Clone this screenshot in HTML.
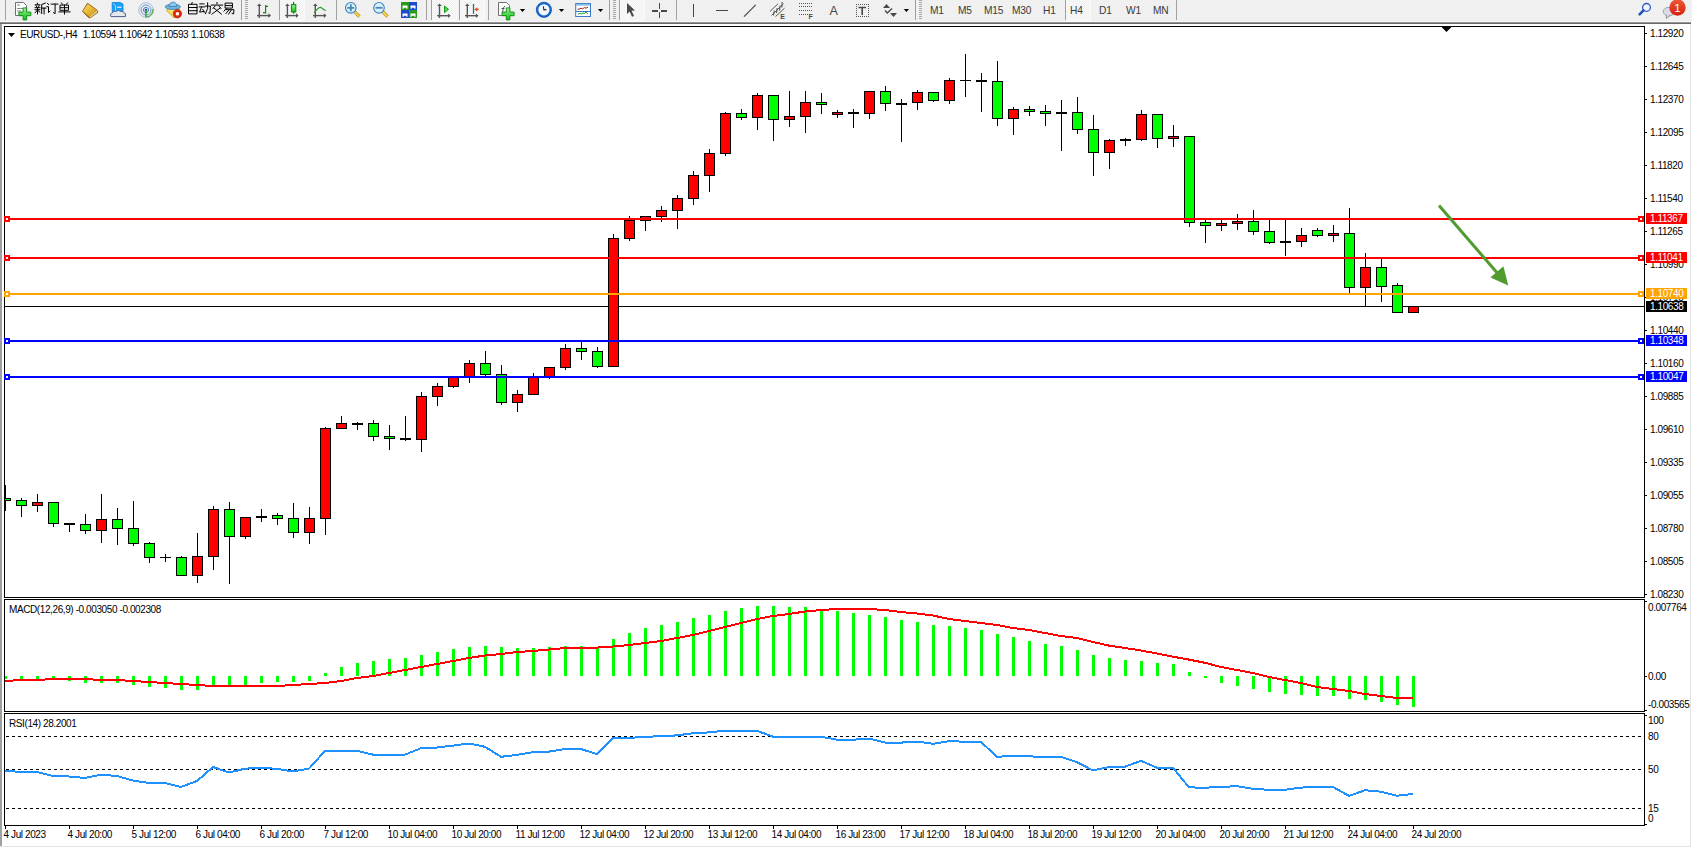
<!DOCTYPE html><html><head><meta charset="utf-8"><style>html,body{margin:0;padding:0;background:#fff;overflow:hidden}svg{display:block}text{font-family:"Liberation Sans", sans-serif}</style></head><body>
<svg width="1692" height="848" viewBox="0 0 1692 848" shape-rendering="crispEdges">
<rect x="0" y="0" width="1692" height="848" fill="#ffffff"/>
<rect x="0" y="0" width="1692" height="21" fill="#f0f0f0"/>
<rect x="0" y="21" width="1692" height="1" fill="#f6f6f6"/>
<rect x="0" y="22" width="1691" height="1" fill="#959595"/>
<rect x="0" y="23" width="1691" height="1" fill="#696969"/>
<rect x="0" y="24" width="2" height="823" fill="#a0a0a0"/>
<rect x="0" y="846" width="1691" height="1" fill="#e3e3e3"/>
<rect x="1690" y="24" width="1" height="822" fill="#e3e3e3"/>
<rect x="4" y="26" width="1641" height="1" fill="#000000"/>
<rect x="4" y="26" width="1" height="572" fill="#000000"/>
<rect x="1644" y="26" width="1" height="572" fill="#000000"/>
<rect x="4" y="597" width="1641" height="1" fill="#000000"/>
<rect x="4" y="599" width="1641" height="1" fill="#000000"/>
<rect x="4" y="599" width="1" height="113" fill="#000000"/>
<rect x="1644" y="599" width="1" height="113" fill="#000000"/>
<rect x="4" y="711" width="1641" height="1" fill="#000000"/>
<rect x="4" y="713" width="1641" height="1" fill="#000000"/>
<rect x="4" y="713" width="1" height="113" fill="#000000"/>
<rect x="1644" y="713" width="1" height="113" fill="#000000"/>
<rect x="4" y="825" width="1641" height="1" fill="#000000"/>
<polygon points="1441.5,27 1451.5,27 1446.5,32" fill="#000" shape-rendering="auto"/>
<rect x="1645" y="33" width="2" height="1" fill="#000000"/>
<text x="1650" y="37" font-size="10" letter-spacing="-0.4" shape-rendering="auto" fill="#000">1.12920</text>
<rect x="1645" y="66" width="2" height="1" fill="#000000"/>
<text x="1650" y="70" font-size="10" letter-spacing="-0.4" shape-rendering="auto" fill="#000">1.12645</text>
<rect x="1645" y="99" width="2" height="1" fill="#000000"/>
<text x="1650" y="103" font-size="10" letter-spacing="-0.4" shape-rendering="auto" fill="#000">1.12370</text>
<rect x="1645" y="132" width="2" height="1" fill="#000000"/>
<text x="1650" y="136" font-size="10" letter-spacing="-0.4" shape-rendering="auto" fill="#000">1.12095</text>
<rect x="1645" y="165" width="2" height="1" fill="#000000"/>
<text x="1650" y="169" font-size="10" letter-spacing="-0.4" shape-rendering="auto" fill="#000">1.11820</text>
<rect x="1645" y="198" width="2" height="1" fill="#000000"/>
<text x="1650" y="202" font-size="10" letter-spacing="-0.4" shape-rendering="auto" fill="#000">1.11540</text>
<rect x="1645" y="231" width="2" height="1" fill="#000000"/>
<text x="1650" y="235" font-size="10" letter-spacing="-0.4" shape-rendering="auto" fill="#000">1.11265</text>
<rect x="1645" y="264" width="2" height="1" fill="#000000"/>
<text x="1650" y="268" font-size="10" letter-spacing="-0.4" shape-rendering="auto" fill="#000">1.10990</text>
<rect x="1645" y="297" width="2" height="1" fill="#000000"/>
<text x="1650" y="301" font-size="10" letter-spacing="-0.4" shape-rendering="auto" fill="#000">1.10715</text>
<rect x="1645" y="330" width="2" height="1" fill="#000000"/>
<text x="1650" y="334" font-size="10" letter-spacing="-0.4" shape-rendering="auto" fill="#000">1.10440</text>
<rect x="1645" y="363" width="2" height="1" fill="#000000"/>
<text x="1650" y="367" font-size="10" letter-spacing="-0.4" shape-rendering="auto" fill="#000">1.10160</text>
<rect x="1645" y="396" width="2" height="1" fill="#000000"/>
<text x="1650" y="400" font-size="10" letter-spacing="-0.4" shape-rendering="auto" fill="#000">1.09885</text>
<rect x="1645" y="429" width="2" height="1" fill="#000000"/>
<text x="1650" y="433" font-size="10" letter-spacing="-0.4" shape-rendering="auto" fill="#000">1.09610</text>
<rect x="1645" y="462" width="2" height="1" fill="#000000"/>
<text x="1650" y="466" font-size="10" letter-spacing="-0.4" shape-rendering="auto" fill="#000">1.09335</text>
<rect x="1645" y="495" width="2" height="1" fill="#000000"/>
<text x="1650" y="499" font-size="10" letter-spacing="-0.4" shape-rendering="auto" fill="#000">1.09055</text>
<rect x="1645" y="528" width="2" height="1" fill="#000000"/>
<text x="1650" y="532" font-size="10" letter-spacing="-0.4" shape-rendering="auto" fill="#000">1.08780</text>
<rect x="1645" y="561" width="2" height="1" fill="#000000"/>
<text x="1650" y="565" font-size="10" letter-spacing="-0.4" shape-rendering="auto" fill="#000">1.08505</text>
<rect x="1645" y="594" width="2" height="1" fill="#000000"/>
<text x="1650" y="598" font-size="10" letter-spacing="-0.4" shape-rendering="auto" fill="#000">1.08230</text>
<rect x="5" y="306" width="1639" height="1" fill="#000000"/>
<rect x="5" y="485" width="1" height="26" fill="#000000"/>
<rect x="5" y="498" width="6" height="3" fill="#000000"/>
<rect x="5" y="499" width="5" height="1" fill="#00ff00"/>
<rect x="21" y="498" width="1" height="19" fill="#000000"/>
<rect x="16" y="500" width="11" height="6" fill="#000000"/>
<rect x="17" y="501" width="9" height="4" fill="#00ff00"/>
<rect x="37" y="494" width="1" height="18" fill="#000000"/>
<rect x="32" y="502" width="11" height="4" fill="#000000"/>
<rect x="33" y="503" width="9" height="2" fill="#ff0000"/>
<rect x="53" y="502" width="1" height="25" fill="#000000"/>
<rect x="48" y="502" width="11" height="22" fill="#000000"/>
<rect x="49" y="503" width="9" height="20" fill="#00ff00"/>
<rect x="69" y="523" width="1" height="9" fill="#000000"/>
<rect x="64" y="523" width="11" height="2" fill="#000000"/>
<rect x="85" y="514" width="1" height="20" fill="#000000"/>
<rect x="80" y="524" width="11" height="7" fill="#000000"/>
<rect x="81" y="525" width="9" height="5" fill="#00ff00"/>
<rect x="101" y="494" width="1" height="49" fill="#000000"/>
<rect x="96" y="519" width="11" height="12" fill="#000000"/>
<rect x="97" y="520" width="9" height="10" fill="#ff0000"/>
<rect x="117" y="508" width="1" height="37" fill="#000000"/>
<rect x="112" y="519" width="11" height="10" fill="#000000"/>
<rect x="113" y="520" width="9" height="8" fill="#00ff00"/>
<rect x="133" y="501" width="1" height="45" fill="#000000"/>
<rect x="128" y="528" width="11" height="16" fill="#000000"/>
<rect x="129" y="529" width="9" height="14" fill="#00ff00"/>
<rect x="149" y="542" width="1" height="21" fill="#000000"/>
<rect x="144" y="543" width="11" height="15" fill="#000000"/>
<rect x="145" y="544" width="9" height="13" fill="#00ff00"/>
<rect x="165" y="554" width="1" height="8" fill="#000000"/>
<rect x="160" y="557" width="11" height="1" fill="#000000"/>
<rect x="181" y="556" width="1" height="20" fill="#000000"/>
<rect x="176" y="557" width="11" height="19" fill="#000000"/>
<rect x="177" y="558" width="9" height="17" fill="#00ff00"/>
<rect x="197" y="533" width="1" height="50" fill="#000000"/>
<rect x="192" y="556" width="11" height="20" fill="#000000"/>
<rect x="193" y="557" width="9" height="18" fill="#ff0000"/>
<rect x="213" y="506" width="1" height="64" fill="#000000"/>
<rect x="208" y="509" width="11" height="48" fill="#000000"/>
<rect x="209" y="510" width="9" height="46" fill="#ff0000"/>
<rect x="229" y="502" width="1" height="82" fill="#000000"/>
<rect x="224" y="509" width="11" height="28" fill="#000000"/>
<rect x="225" y="510" width="9" height="26" fill="#00ff00"/>
<rect x="245" y="517" width="1" height="22" fill="#000000"/>
<rect x="240" y="517" width="11" height="20" fill="#000000"/>
<rect x="241" y="518" width="9" height="18" fill="#ff0000"/>
<rect x="261" y="509" width="1" height="13" fill="#000000"/>
<rect x="256" y="516" width="11" height="2" fill="#000000"/>
<rect x="277" y="513" width="1" height="12" fill="#000000"/>
<rect x="272" y="515" width="11" height="4" fill="#000000"/>
<rect x="273" y="516" width="9" height="2" fill="#00ff00"/>
<rect x="293" y="503" width="1" height="35" fill="#000000"/>
<rect x="288" y="518" width="11" height="15" fill="#000000"/>
<rect x="289" y="519" width="9" height="13" fill="#00ff00"/>
<rect x="309" y="507" width="1" height="37" fill="#000000"/>
<rect x="304" y="518" width="11" height="15" fill="#000000"/>
<rect x="305" y="519" width="9" height="13" fill="#ff0000"/>
<rect x="325" y="427" width="1" height="108" fill="#000000"/>
<rect x="320" y="428" width="11" height="91" fill="#000000"/>
<rect x="321" y="429" width="9" height="89" fill="#ff0000"/>
<rect x="341" y="416" width="1" height="13" fill="#000000"/>
<rect x="336" y="423" width="11" height="6" fill="#000000"/>
<rect x="337" y="424" width="9" height="4" fill="#ff0000"/>
<rect x="357" y="422" width="1" height="8" fill="#000000"/>
<rect x="352" y="423" width="11" height="2" fill="#000000"/>
<rect x="373" y="420" width="1" height="21" fill="#000000"/>
<rect x="368" y="423" width="11" height="14" fill="#000000"/>
<rect x="369" y="424" width="9" height="12" fill="#00ff00"/>
<rect x="389" y="425" width="1" height="25" fill="#000000"/>
<rect x="384" y="436" width="11" height="3" fill="#000000"/>
<rect x="385" y="437" width="9" height="1" fill="#00ff00"/>
<rect x="405" y="416" width="1" height="25" fill="#000000"/>
<rect x="400" y="438" width="11" height="2" fill="#000000"/>
<rect x="421" y="392" width="1" height="60" fill="#000000"/>
<rect x="416" y="396" width="11" height="44" fill="#000000"/>
<rect x="417" y="397" width="9" height="42" fill="#ff0000"/>
<rect x="437" y="383" width="1" height="23" fill="#000000"/>
<rect x="432" y="386" width="11" height="11" fill="#000000"/>
<rect x="433" y="387" width="9" height="9" fill="#ff0000"/>
<rect x="453" y="376" width="1" height="12" fill="#000000"/>
<rect x="448" y="377" width="11" height="10" fill="#000000"/>
<rect x="449" y="378" width="9" height="8" fill="#ff0000"/>
<rect x="469" y="360" width="1" height="23" fill="#000000"/>
<rect x="464" y="363" width="11" height="14" fill="#000000"/>
<rect x="465" y="364" width="9" height="12" fill="#ff0000"/>
<rect x="485" y="351" width="1" height="25" fill="#000000"/>
<rect x="480" y="363" width="11" height="12" fill="#000000"/>
<rect x="481" y="364" width="9" height="10" fill="#00ff00"/>
<rect x="501" y="365" width="1" height="40" fill="#000000"/>
<rect x="496" y="374" width="11" height="29" fill="#000000"/>
<rect x="497" y="375" width="9" height="27" fill="#00ff00"/>
<rect x="517" y="390" width="1" height="22" fill="#000000"/>
<rect x="512" y="394" width="11" height="9" fill="#000000"/>
<rect x="513" y="395" width="9" height="7" fill="#ff0000"/>
<rect x="533" y="373" width="1" height="22" fill="#000000"/>
<rect x="528" y="377" width="11" height="18" fill="#000000"/>
<rect x="529" y="378" width="9" height="16" fill="#ff0000"/>
<rect x="549" y="367" width="1" height="12" fill="#000000"/>
<rect x="544" y="367" width="11" height="10" fill="#000000"/>
<rect x="545" y="368" width="9" height="8" fill="#ff0000"/>
<rect x="565" y="344" width="1" height="26" fill="#000000"/>
<rect x="560" y="348" width="11" height="20" fill="#000000"/>
<rect x="561" y="349" width="9" height="18" fill="#ff0000"/>
<rect x="581" y="340" width="1" height="20" fill="#000000"/>
<rect x="576" y="348" width="11" height="4" fill="#000000"/>
<rect x="577" y="349" width="9" height="2" fill="#00ff00"/>
<rect x="597" y="347" width="1" height="21" fill="#000000"/>
<rect x="592" y="351" width="11" height="16" fill="#000000"/>
<rect x="593" y="352" width="9" height="14" fill="#00ff00"/>
<rect x="613" y="234" width="1" height="133" fill="#000000"/>
<rect x="608" y="238" width="11" height="129" fill="#000000"/>
<rect x="609" y="239" width="9" height="127" fill="#ff0000"/>
<rect x="629" y="216" width="1" height="25" fill="#000000"/>
<rect x="624" y="220" width="11" height="19" fill="#000000"/>
<rect x="625" y="221" width="9" height="17" fill="#ff0000"/>
<rect x="645" y="216" width="1" height="15" fill="#000000"/>
<rect x="640" y="216" width="11" height="5" fill="#000000"/>
<rect x="641" y="217" width="9" height="3" fill="#ff0000"/>
<rect x="661" y="206" width="1" height="16" fill="#000000"/>
<rect x="656" y="210" width="11" height="7" fill="#000000"/>
<rect x="657" y="211" width="9" height="5" fill="#ff0000"/>
<rect x="677" y="195" width="1" height="34" fill="#000000"/>
<rect x="672" y="198" width="11" height="13" fill="#000000"/>
<rect x="673" y="199" width="9" height="11" fill="#ff0000"/>
<rect x="693" y="171" width="1" height="34" fill="#000000"/>
<rect x="688" y="175" width="11" height="24" fill="#000000"/>
<rect x="689" y="176" width="9" height="22" fill="#ff0000"/>
<rect x="709" y="149" width="1" height="43" fill="#000000"/>
<rect x="704" y="153" width="11" height="23" fill="#000000"/>
<rect x="705" y="154" width="9" height="21" fill="#ff0000"/>
<rect x="725" y="112" width="1" height="44" fill="#000000"/>
<rect x="720" y="113" width="11" height="41" fill="#000000"/>
<rect x="721" y="114" width="9" height="39" fill="#ff0000"/>
<rect x="741" y="109" width="1" height="11" fill="#000000"/>
<rect x="736" y="113" width="11" height="5" fill="#000000"/>
<rect x="737" y="114" width="9" height="3" fill="#00ff00"/>
<rect x="757" y="93" width="1" height="37" fill="#000000"/>
<rect x="752" y="95" width="11" height="23" fill="#000000"/>
<rect x="753" y="96" width="9" height="21" fill="#ff0000"/>
<rect x="773" y="95" width="1" height="46" fill="#000000"/>
<rect x="768" y="95" width="11" height="25" fill="#000000"/>
<rect x="769" y="96" width="9" height="23" fill="#00ff00"/>
<rect x="789" y="91" width="1" height="36" fill="#000000"/>
<rect x="784" y="116" width="11" height="4" fill="#000000"/>
<rect x="785" y="117" width="9" height="2" fill="#ff0000"/>
<rect x="805" y="91" width="1" height="42" fill="#000000"/>
<rect x="800" y="102" width="11" height="15" fill="#000000"/>
<rect x="801" y="103" width="9" height="13" fill="#ff0000"/>
<rect x="821" y="93" width="1" height="21" fill="#000000"/>
<rect x="816" y="102" width="11" height="3" fill="#000000"/>
<rect x="817" y="103" width="9" height="1" fill="#00ff00"/>
<rect x="837" y="110" width="1" height="8" fill="#000000"/>
<rect x="832" y="112" width="11" height="3" fill="#000000"/>
<rect x="833" y="113" width="9" height="1" fill="#ff0000"/>
<rect x="853" y="109" width="1" height="19" fill="#000000"/>
<rect x="848" y="112" width="11" height="2" fill="#000000"/>
<rect x="869" y="91" width="1" height="28" fill="#000000"/>
<rect x="864" y="91" width="11" height="23" fill="#000000"/>
<rect x="865" y="92" width="9" height="21" fill="#ff0000"/>
<rect x="885" y="86" width="1" height="25" fill="#000000"/>
<rect x="880" y="91" width="11" height="13" fill="#000000"/>
<rect x="881" y="92" width="9" height="11" fill="#00ff00"/>
<rect x="901" y="99" width="1" height="43" fill="#000000"/>
<rect x="896" y="103" width="11" height="2" fill="#000000"/>
<rect x="917" y="90" width="1" height="20" fill="#000000"/>
<rect x="912" y="92" width="11" height="11" fill="#000000"/>
<rect x="913" y="93" width="9" height="9" fill="#ff0000"/>
<rect x="933" y="92" width="1" height="10" fill="#000000"/>
<rect x="928" y="92" width="11" height="9" fill="#000000"/>
<rect x="929" y="93" width="9" height="7" fill="#00ff00"/>
<rect x="949" y="78" width="1" height="26" fill="#000000"/>
<rect x="944" y="80" width="11" height="21" fill="#000000"/>
<rect x="945" y="81" width="9" height="19" fill="#ff0000"/>
<rect x="965" y="54" width="1" height="43" fill="#000000"/>
<rect x="960" y="80" width="11" height="1" fill="#000000"/>
<rect x="981" y="73" width="1" height="39" fill="#000000"/>
<rect x="976" y="80" width="11" height="2" fill="#000000"/>
<rect x="997" y="61" width="1" height="65" fill="#000000"/>
<rect x="992" y="81" width="11" height="38" fill="#000000"/>
<rect x="993" y="82" width="9" height="36" fill="#00ff00"/>
<rect x="1013" y="107" width="1" height="28" fill="#000000"/>
<rect x="1008" y="109" width="11" height="10" fill="#000000"/>
<rect x="1009" y="110" width="9" height="8" fill="#ff0000"/>
<rect x="1029" y="106" width="1" height="10" fill="#000000"/>
<rect x="1024" y="109" width="11" height="3" fill="#000000"/>
<rect x="1025" y="110" width="9" height="1" fill="#00ff00"/>
<rect x="1045" y="105" width="1" height="21" fill="#000000"/>
<rect x="1040" y="111" width="11" height="3" fill="#000000"/>
<rect x="1041" y="112" width="9" height="1" fill="#00ff00"/>
<rect x="1061" y="100" width="1" height="51" fill="#000000"/>
<rect x="1056" y="112" width="11" height="2" fill="#000000"/>
<rect x="1077" y="97" width="1" height="37" fill="#000000"/>
<rect x="1072" y="112" width="11" height="18" fill="#000000"/>
<rect x="1073" y="113" width="9" height="16" fill="#00ff00"/>
<rect x="1093" y="115" width="1" height="61" fill="#000000"/>
<rect x="1088" y="129" width="11" height="24" fill="#000000"/>
<rect x="1089" y="130" width="9" height="22" fill="#00ff00"/>
<rect x="1109" y="139" width="1" height="30" fill="#000000"/>
<rect x="1104" y="140" width="11" height="13" fill="#000000"/>
<rect x="1105" y="141" width="9" height="11" fill="#ff0000"/>
<rect x="1125" y="138" width="1" height="8" fill="#000000"/>
<rect x="1120" y="139" width="11" height="2" fill="#000000"/>
<rect x="1141" y="110" width="1" height="31" fill="#000000"/>
<rect x="1136" y="114" width="11" height="26" fill="#000000"/>
<rect x="1137" y="115" width="9" height="24" fill="#ff0000"/>
<rect x="1157" y="114" width="1" height="34" fill="#000000"/>
<rect x="1152" y="114" width="11" height="25" fill="#000000"/>
<rect x="1153" y="115" width="9" height="23" fill="#00ff00"/>
<rect x="1173" y="125" width="1" height="22" fill="#000000"/>
<rect x="1168" y="136" width="11" height="3" fill="#000000"/>
<rect x="1169" y="137" width="9" height="1" fill="#ff0000"/>
<rect x="1189" y="136" width="1" height="91" fill="#000000"/>
<rect x="1184" y="136" width="11" height="87" fill="#000000"/>
<rect x="1185" y="137" width="9" height="85" fill="#00ff00"/>
<rect x="1205" y="220" width="1" height="23" fill="#000000"/>
<rect x="1200" y="222" width="11" height="4" fill="#000000"/>
<rect x="1201" y="223" width="9" height="2" fill="#00ff00"/>
<rect x="1221" y="220" width="1" height="11" fill="#000000"/>
<rect x="1216" y="223" width="11" height="3" fill="#000000"/>
<rect x="1217" y="224" width="9" height="1" fill="#ff0000"/>
<rect x="1237" y="214" width="1" height="16" fill="#000000"/>
<rect x="1232" y="221" width="11" height="3" fill="#000000"/>
<rect x="1233" y="222" width="9" height="1" fill="#ff0000"/>
<rect x="1253" y="210" width="1" height="25" fill="#000000"/>
<rect x="1248" y="221" width="11" height="11" fill="#000000"/>
<rect x="1249" y="222" width="9" height="9" fill="#00ff00"/>
<rect x="1269" y="219" width="1" height="25" fill="#000000"/>
<rect x="1264" y="231" width="11" height="12" fill="#000000"/>
<rect x="1265" y="232" width="9" height="10" fill="#00ff00"/>
<rect x="1285" y="219" width="1" height="37" fill="#000000"/>
<rect x="1280" y="241" width="11" height="2" fill="#000000"/>
<rect x="1301" y="228" width="1" height="19" fill="#000000"/>
<rect x="1296" y="235" width="11" height="7" fill="#000000"/>
<rect x="1297" y="236" width="9" height="5" fill="#ff0000"/>
<rect x="1317" y="228" width="1" height="9" fill="#000000"/>
<rect x="1312" y="230" width="11" height="6" fill="#000000"/>
<rect x="1313" y="231" width="9" height="4" fill="#00ff00"/>
<rect x="1333" y="225" width="1" height="17" fill="#000000"/>
<rect x="1328" y="233" width="11" height="3" fill="#000000"/>
<rect x="1329" y="234" width="9" height="1" fill="#ff0000"/>
<rect x="1349" y="208" width="1" height="85" fill="#000000"/>
<rect x="1344" y="233" width="11" height="55" fill="#000000"/>
<rect x="1345" y="234" width="9" height="53" fill="#00ff00"/>
<rect x="1365" y="253" width="1" height="53" fill="#000000"/>
<rect x="1360" y="267" width="11" height="21" fill="#000000"/>
<rect x="1361" y="268" width="9" height="19" fill="#ff0000"/>
<rect x="1381" y="258" width="1" height="44" fill="#000000"/>
<rect x="1376" y="267" width="11" height="20" fill="#000000"/>
<rect x="1377" y="268" width="9" height="18" fill="#00ff00"/>
<rect x="1397" y="283" width="1" height="30" fill="#000000"/>
<rect x="1392" y="285" width="11" height="28" fill="#000000"/>
<rect x="1393" y="286" width="9" height="26" fill="#00ff00"/>
<rect x="1413" y="306" width="1" height="7" fill="#000000"/>
<rect x="1408" y="306" width="11" height="7" fill="#000000"/>
<rect x="1409" y="307" width="9" height="5" fill="#ff0000"/>
<rect x="5" y="218" width="1639" height="2" fill="#ff0000"/>
<rect x="4" y="216" width="6" height="6" fill="#ff0000"/>
<rect x="6" y="218" width="2" height="2" fill="#ffffff"/>
<rect x="1638" y="216" width="6" height="6" fill="#ff0000"/>
<rect x="1640" y="218" width="2" height="2" fill="#ffffff"/>
<rect x="5" y="257" width="1639" height="2" fill="#ff0000"/>
<rect x="4" y="255" width="6" height="6" fill="#ff0000"/>
<rect x="6" y="257" width="2" height="2" fill="#ffffff"/>
<rect x="1638" y="255" width="6" height="6" fill="#ff0000"/>
<rect x="1640" y="257" width="2" height="2" fill="#ffffff"/>
<rect x="5" y="293" width="1639" height="2" fill="#ffa500"/>
<rect x="4" y="291" width="6" height="6" fill="#ffa500"/>
<rect x="6" y="293" width="2" height="2" fill="#ffffff"/>
<rect x="1638" y="291" width="6" height="6" fill="#ffa500"/>
<rect x="1640" y="293" width="2" height="2" fill="#ffffff"/>
<rect x="5" y="340" width="1639" height="2" fill="#0000ff"/>
<rect x="4" y="338" width="6" height="6" fill="#0000ff"/>
<rect x="6" y="340" width="2" height="2" fill="#ffffff"/>
<rect x="1638" y="338" width="6" height="6" fill="#0000ff"/>
<rect x="1640" y="340" width="2" height="2" fill="#ffffff"/>
<rect x="5" y="376" width="1639" height="2" fill="#0000ff"/>
<rect x="4" y="374" width="6" height="6" fill="#0000ff"/>
<rect x="6" y="376" width="2" height="2" fill="#ffffff"/>
<rect x="1638" y="374" width="6" height="6" fill="#0000ff"/>
<rect x="1640" y="376" width="2" height="2" fill="#ffffff"/>
<g shape-rendering="auto"><line x1="1439" y1="205.5" x2="1499" y2="275" stroke="#4f9b2f" stroke-width="3"/><polygon points="1490.4,277.5 1503.4,266.3 1508.3,285.4" fill="#4f9b2f"/></g>
<rect x="1646" y="213" width="41" height="11" fill="#ff0000"/>
<text x="1650" y="222" font-size="10" letter-spacing="-0.4" shape-rendering="auto" fill="#fff">1.11367</text>
<rect x="1646" y="252" width="41" height="11" fill="#ff0000"/>
<text x="1650" y="261" font-size="10" letter-spacing="-0.4" shape-rendering="auto" fill="#fff">1.11041</text>
<rect x="1646" y="288" width="41" height="11" fill="#ffa500"/>
<text x="1650" y="297" font-size="10" letter-spacing="-0.4" shape-rendering="auto" fill="#fff">1.10740</text>
<rect x="1646" y="301" width="41" height="11" fill="#000000"/>
<text x="1650" y="310" font-size="10" letter-spacing="-0.4" shape-rendering="auto" fill="#fff">1.10638</text>
<rect x="1646" y="335" width="41" height="11" fill="#0000ff"/>
<text x="1650" y="344" font-size="10" letter-spacing="-0.4" shape-rendering="auto" fill="#fff">1.10348</text>
<rect x="1646" y="371" width="41" height="11" fill="#0000ff"/>
<text x="1650" y="380" font-size="10" letter-spacing="-0.4" shape-rendering="auto" fill="#fff">1.10047</text>
<polygon points="8,33 15,33 11.5,37" fill="#000" shape-rendering="auto"/>
<text x="20" y="38" font-size="10" letter-spacing="-0.4" shape-rendering="auto" word-spacing="0.4" fill="#000" xml:space="preserve">EURUSD-,H4  1.10594 1.10642 1.10593 1.10638</text>
<rect x="5" y="676" width="2" height="3" fill="#00ff00"/>
<rect x="20" y="676" width="3" height="3" fill="#00ff00"/>
<rect x="36" y="676" width="3" height="3" fill="#00ff00"/>
<rect x="52" y="676" width="3" height="3" fill="#00ff00"/>
<rect x="68" y="676" width="3" height="5" fill="#00ff00"/>
<rect x="84" y="676" width="3" height="7" fill="#00ff00"/>
<rect x="100" y="676" width="3" height="7" fill="#00ff00"/>
<rect x="116" y="676" width="3" height="7" fill="#00ff00"/>
<rect x="132" y="676" width="3" height="9" fill="#00ff00"/>
<rect x="148" y="676" width="3" height="11" fill="#00ff00"/>
<rect x="164" y="676" width="3" height="12" fill="#00ff00"/>
<rect x="180" y="676" width="3" height="14" fill="#00ff00"/>
<rect x="196" y="676" width="3" height="14" fill="#00ff00"/>
<rect x="212" y="676" width="3" height="11" fill="#00ff00"/>
<rect x="228" y="676" width="3" height="9" fill="#00ff00"/>
<rect x="244" y="676" width="3" height="9" fill="#00ff00"/>
<rect x="260" y="676" width="3" height="7" fill="#00ff00"/>
<rect x="276" y="676" width="3" height="6" fill="#00ff00"/>
<rect x="292" y="676" width="3" height="6" fill="#00ff00"/>
<rect x="308" y="676" width="3" height="5" fill="#00ff00"/>
<rect x="324" y="673" width="3" height="3" fill="#00ff00"/>
<rect x="340" y="667" width="3" height="9" fill="#00ff00"/>
<rect x="356" y="663" width="3" height="13" fill="#00ff00"/>
<rect x="372" y="661" width="3" height="15" fill="#00ff00"/>
<rect x="388" y="659" width="3" height="17" fill="#00ff00"/>
<rect x="404" y="658" width="3" height="18" fill="#00ff00"/>
<rect x="420" y="655" width="3" height="21" fill="#00ff00"/>
<rect x="436" y="652" width="3" height="24" fill="#00ff00"/>
<rect x="452" y="649" width="3" height="27" fill="#00ff00"/>
<rect x="468" y="647" width="3" height="29" fill="#00ff00"/>
<rect x="484" y="646" width="3" height="30" fill="#00ff00"/>
<rect x="500" y="647" width="3" height="29" fill="#00ff00"/>
<rect x="516" y="648" width="3" height="28" fill="#00ff00"/>
<rect x="532" y="648" width="3" height="28" fill="#00ff00"/>
<rect x="548" y="647" width="3" height="29" fill="#00ff00"/>
<rect x="564" y="646" width="3" height="30" fill="#00ff00"/>
<rect x="580" y="646" width="3" height="30" fill="#00ff00"/>
<rect x="596" y="647" width="3" height="29" fill="#00ff00"/>
<rect x="612" y="639" width="3" height="37" fill="#00ff00"/>
<rect x="628" y="633" width="3" height="43" fill="#00ff00"/>
<rect x="644" y="628" width="3" height="48" fill="#00ff00"/>
<rect x="660" y="625" width="3" height="51" fill="#00ff00"/>
<rect x="676" y="622" width="3" height="54" fill="#00ff00"/>
<rect x="692" y="618" width="3" height="58" fill="#00ff00"/>
<rect x="708" y="615" width="3" height="61" fill="#00ff00"/>
<rect x="724" y="611" width="3" height="65" fill="#00ff00"/>
<rect x="740" y="608" width="3" height="68" fill="#00ff00"/>
<rect x="756" y="606" width="3" height="70" fill="#00ff00"/>
<rect x="772" y="606" width="3" height="70" fill="#00ff00"/>
<rect x="788" y="607" width="3" height="69" fill="#00ff00"/>
<rect x="804" y="607" width="3" height="69" fill="#00ff00"/>
<rect x="820" y="609" width="3" height="67" fill="#00ff00"/>
<rect x="836" y="611" width="3" height="65" fill="#00ff00"/>
<rect x="852" y="613" width="3" height="63" fill="#00ff00"/>
<rect x="868" y="615" width="3" height="61" fill="#00ff00"/>
<rect x="884" y="617" width="3" height="59" fill="#00ff00"/>
<rect x="900" y="620" width="3" height="56" fill="#00ff00"/>
<rect x="916" y="622" width="3" height="54" fill="#00ff00"/>
<rect x="932" y="625" width="3" height="51" fill="#00ff00"/>
<rect x="948" y="626" width="3" height="50" fill="#00ff00"/>
<rect x="964" y="628" width="3" height="48" fill="#00ff00"/>
<rect x="980" y="630" width="3" height="46" fill="#00ff00"/>
<rect x="996" y="634" width="3" height="42" fill="#00ff00"/>
<rect x="1012" y="637" width="3" height="39" fill="#00ff00"/>
<rect x="1028" y="641" width="3" height="35" fill="#00ff00"/>
<rect x="1044" y="644" width="3" height="32" fill="#00ff00"/>
<rect x="1060" y="646" width="3" height="30" fill="#00ff00"/>
<rect x="1076" y="650" width="3" height="26" fill="#00ff00"/>
<rect x="1092" y="655" width="3" height="21" fill="#00ff00"/>
<rect x="1108" y="658" width="3" height="18" fill="#00ff00"/>
<rect x="1124" y="660" width="3" height="16" fill="#00ff00"/>
<rect x="1140" y="661" width="3" height="15" fill="#00ff00"/>
<rect x="1156" y="663" width="3" height="13" fill="#00ff00"/>
<rect x="1172" y="664" width="3" height="12" fill="#00ff00"/>
<rect x="1188" y="672" width="3" height="4" fill="#00ff00"/>
<rect x="1204" y="676" width="3" height="2" fill="#00ff00"/>
<rect x="1220" y="676" width="3" height="7" fill="#00ff00"/>
<rect x="1236" y="676" width="3" height="10" fill="#00ff00"/>
<rect x="1252" y="676" width="3" height="13" fill="#00ff00"/>
<rect x="1268" y="676" width="3" height="16" fill="#00ff00"/>
<rect x="1284" y="676" width="3" height="18" fill="#00ff00"/>
<rect x="1300" y="676" width="3" height="19" fill="#00ff00"/>
<rect x="1316" y="676" width="3" height="20" fill="#00ff00"/>
<rect x="1332" y="676" width="3" height="20" fill="#00ff00"/>
<rect x="1348" y="676" width="3" height="23" fill="#00ff00"/>
<rect x="1364" y="676" width="3" height="24" fill="#00ff00"/>
<rect x="1380" y="676" width="3" height="26" fill="#00ff00"/>
<rect x="1396" y="676" width="3" height="29" fill="#00ff00"/>
<rect x="1412" y="676" width="3" height="31" fill="#00ff00"/>
<polyline points="5,681.0 21,680.0 37,680.0 53,679.0 69,679.0 85,679.0 101,680.0 117,680.0 133,681.0 149,682.0 165,683.0 181,684.0 197,685.0 213,686.0 229,686.0 245,686.0 261,686.0 277,686.0 293,685.0 309,684.0 325,683.0 341,681.0 357,678.0 373,676.0 389,673.0 405,670.0 421,667.0 437,664.0 453,661.0 469,658.0 485,655.5 501,654.0 517,652.0 533,651.0 549,649.5 565,648.0 581,647.6 597,647.6 613,646.5 629,645.0 645,643.0 661,641.0 677,638.0 693,635.0 709,631.0 725,627.0 741,623.0 757,619.0 773,616.0 789,614.0 805,611.5 821,610.0 837,609.0 853,609.0 869,609.0 885,610.0 901,612.0 917,613.5 933,615.5 949,619.0 965,621.0 981,623.0 997,625.0 1013,628.0 1029,630.0 1045,633.0 1061,636.0 1077,638.0 1093,642.0 1109,645.6 1125,648.0 1141,650.5 1157,653.5 1173,656.7 1189,659.6 1205,662.8 1221,667.0 1237,670.0 1253,673.0 1269,677.0 1285,680.0 1301,683.0 1317,687.0 1333,689.0 1349,691.0 1365,694.0 1381,696.0 1397,698.0 1413,698.0" fill="none" stroke="#ff0000" stroke-width="2"/>
<text x="9" y="613" font-size="10" letter-spacing="-0.4" shape-rendering="auto" fill="#000">MACD(12,26,9) -0.003050 -0.002308</text>
<rect x="1645" y="601" width="2" height="1" fill="#000000"/>
<text x="1648" y="611" font-size="10" letter-spacing="-0.4" shape-rendering="auto" fill="#000">0.007764</text>
<text x="1648" y="680" font-size="10" letter-spacing="-0.4" shape-rendering="auto" fill="#000">0.00</text>
<text x="1648" y="708" font-size="10" letter-spacing="-0.4" shape-rendering="auto" fill="#000">-0.003565</text>
<rect x="1645" y="676" width="2" height="1" fill="#000000"/>
<rect x="1645" y="710" width="2" height="1" fill="#000000"/>
<rect x="1645" y="715" width="2" height="1" fill="#000000"/>
<rect x="1645" y="824" width="2" height="1" fill="#000000"/>
<line x1="6" y1="736.5" x2="1642" y2="736.5" stroke="#000" stroke-width="1" stroke-dasharray="3 3"/>
<line x1="6" y1="769.5" x2="1642" y2="769.5" stroke="#000" stroke-width="1" stroke-dasharray="3 3"/>
<line x1="6" y1="808.5" x2="1642" y2="808.5" stroke="#000" stroke-width="1" stroke-dasharray="3 3"/>
<polyline points="5,770.6 21,772.0 37,772.0 53,776.0 69,776.5 85,778.0 101,774.6 117,776.0 133,780.6 149,783.0 165,783.0 181,787.0 197,781.0 213,767.0 229,772.5 245,768.7 261,767.7 277,768.9 293,771.4 309,768.6 325,750.9 341,750.9 357,750.9 373,754.6 389,754.6 405,754.6 421,748.2 437,747.5 453,745.6 469,743.5 485,746.8 501,756.8 517,754.9 533,752.2 549,751.6 565,749.0 581,749.0 597,754.2 613,737.9 629,737.9 645,736.9 661,736.1 677,735.4 693,733.2 709,732.4 725,730.6 741,730.8 757,730.8 773,736.7 789,736.7 805,736.7 821,736.7 837,739.7 853,739.7 869,738.6 885,742.6 901,742.6 917,741.6 933,743.8 949,741.2 965,741.7 981,741.9 997,756.8 1013,755.9 1029,756.4 1045,756.8 1061,756.8 1077,762.3 1093,770.4 1109,767.0 1125,766.7 1141,760.8 1157,767.7 1173,767.7 1189,787.4 1205,787.7 1221,787.0 1237,786.1 1253,788.8 1269,789.8 1285,789.8 1301,787.6 1317,787.0 1333,787.0 1349,795.9 1365,790.2 1381,791.7 1397,795.7 1413,793.9" fill="none" stroke="#1e90ff" stroke-width="2"/>
<text x="9" y="727" font-size="10" letter-spacing="-0.4" shape-rendering="auto" fill="#000">RSI(14) 28.2001</text>
<text x="1648" y="724" font-size="10" letter-spacing="-0.4" shape-rendering="auto" fill="#000">100</text>
<text x="1648" y="740" font-size="10" letter-spacing="-0.4" shape-rendering="auto" fill="#000">80</text>
<text x="1648" y="773" font-size="10" letter-spacing="-0.4" shape-rendering="auto" fill="#000">50</text>
<text x="1648" y="812" font-size="10" letter-spacing="-0.4" shape-rendering="auto" fill="#000">15</text>
<text x="1648" y="822" font-size="10" letter-spacing="-0.4" shape-rendering="auto" fill="#000">0</text>
<rect x="5" y="826" width="1" height="3" fill="#000000"/>
<text x="3.5" y="838" font-size="10" letter-spacing="-0.4" shape-rendering="auto" fill="#000">4 Jul 2023</text>
<rect x="69" y="826" width="1" height="3" fill="#000000"/>
<text x="67.5" y="838" font-size="10" letter-spacing="-0.4" shape-rendering="auto" fill="#000">4 Jul 20:00</text>
<rect x="133" y="826" width="1" height="3" fill="#000000"/>
<text x="131.5" y="838" font-size="10" letter-spacing="-0.4" shape-rendering="auto" fill="#000">5 Jul 12:00</text>
<rect x="197" y="826" width="1" height="3" fill="#000000"/>
<text x="195.5" y="838" font-size="10" letter-spacing="-0.4" shape-rendering="auto" fill="#000">6 Jul 04:00</text>
<rect x="261" y="826" width="1" height="3" fill="#000000"/>
<text x="259.5" y="838" font-size="10" letter-spacing="-0.4" shape-rendering="auto" fill="#000">6 Jul 20:00</text>
<rect x="325" y="826" width="1" height="3" fill="#000000"/>
<text x="323.5" y="838" font-size="10" letter-spacing="-0.4" shape-rendering="auto" fill="#000">7 Jul 12:00</text>
<rect x="389" y="826" width="1" height="3" fill="#000000"/>
<text x="387.5" y="838" font-size="10" letter-spacing="-0.4" shape-rendering="auto" fill="#000">10 Jul 04:00</text>
<rect x="453" y="826" width="1" height="3" fill="#000000"/>
<text x="451.5" y="838" font-size="10" letter-spacing="-0.4" shape-rendering="auto" fill="#000">10 Jul 20:00</text>
<rect x="517" y="826" width="1" height="3" fill="#000000"/>
<text x="515.5" y="838" font-size="10" letter-spacing="-0.4" shape-rendering="auto" fill="#000">11 Jul 12:00</text>
<rect x="581" y="826" width="1" height="3" fill="#000000"/>
<text x="579.5" y="838" font-size="10" letter-spacing="-0.4" shape-rendering="auto" fill="#000">12 Jul 04:00</text>
<rect x="645" y="826" width="1" height="3" fill="#000000"/>
<text x="643.5" y="838" font-size="10" letter-spacing="-0.4" shape-rendering="auto" fill="#000">12 Jul 20:00</text>
<rect x="709" y="826" width="1" height="3" fill="#000000"/>
<text x="707.5" y="838" font-size="10" letter-spacing="-0.4" shape-rendering="auto" fill="#000">13 Jul 12:00</text>
<rect x="773" y="826" width="1" height="3" fill="#000000"/>
<text x="771.5" y="838" font-size="10" letter-spacing="-0.4" shape-rendering="auto" fill="#000">14 Jul 04:00</text>
<rect x="837" y="826" width="1" height="3" fill="#000000"/>
<text x="835.5" y="838" font-size="10" letter-spacing="-0.4" shape-rendering="auto" fill="#000">16 Jul 23:00</text>
<rect x="901" y="826" width="1" height="3" fill="#000000"/>
<text x="899.5" y="838" font-size="10" letter-spacing="-0.4" shape-rendering="auto" fill="#000">17 Jul 12:00</text>
<rect x="965" y="826" width="1" height="3" fill="#000000"/>
<text x="963.5" y="838" font-size="10" letter-spacing="-0.4" shape-rendering="auto" fill="#000">18 Jul 04:00</text>
<rect x="1029" y="826" width="1" height="3" fill="#000000"/>
<text x="1027.5" y="838" font-size="10" letter-spacing="-0.4" shape-rendering="auto" fill="#000">18 Jul 20:00</text>
<rect x="1093" y="826" width="1" height="3" fill="#000000"/>
<text x="1091.5" y="838" font-size="10" letter-spacing="-0.4" shape-rendering="auto" fill="#000">19 Jul 12:00</text>
<rect x="1157" y="826" width="1" height="3" fill="#000000"/>
<text x="1155.5" y="838" font-size="10" letter-spacing="-0.4" shape-rendering="auto" fill="#000">20 Jul 04:00</text>
<rect x="1221" y="826" width="1" height="3" fill="#000000"/>
<text x="1219.5" y="838" font-size="10" letter-spacing="-0.4" shape-rendering="auto" fill="#000">20 Jul 20:00</text>
<rect x="1285" y="826" width="1" height="3" fill="#000000"/>
<text x="1283.5" y="838" font-size="10" letter-spacing="-0.4" shape-rendering="auto" fill="#000">21 Jul 12:00</text>
<rect x="1349" y="826" width="1" height="3" fill="#000000"/>
<text x="1347.5" y="838" font-size="10" letter-spacing="-0.4" shape-rendering="auto" fill="#000">24 Jul 04:00</text>
<rect x="1413" y="826" width="1" height="3" fill="#000000"/>
<text x="1411.5" y="838" font-size="10" letter-spacing="-0.4" shape-rendering="auto" fill="#000">24 Jul 20:00</text>
<defs><pattern id="dith" width="2" height="2" patternUnits="userSpaceOnUse"><rect width="2" height="2" fill="#f0f0f0"/><rect width="1" height="1" fill="#fbfbfb"/><rect x="1" y="1" width="1" height="1" fill="#fbfbfb"/></pattern><linearGradient id="gold" x1="0" y1="0" x2="1" y2="1"><stop offset="0" stop-color="#ffe060"/><stop offset="1" stop-color="#d09010"/></linearGradient><linearGradient id="grn" x1="0" y1="0" x2="0" y2="1"><stop offset="0" stop-color="#9af09a"/><stop offset="1" stop-color="#10c010"/></linearGradient><linearGradient id="badge" x1="0" y1="0" x2="0" y2="1"><stop offset="0" stop-color="#ee5a38"/><stop offset="1" stop-color="#d42010"/></linearGradient></defs>
<g>
<rect x="5" y="0" width="1" height="20" fill="#a0a0a0"/>
<rect x="280" y="0" width="24" height="20" fill="url(#dith)"/>
<rect x="280" y="20" width="25" height="1" fill="#fafafa"/>
<rect x="304" y="0" width="1" height="21" fill="#fafafa"/>
<rect x="432" y="0" width="24" height="20" fill="url(#dith)"/>
<rect x="432" y="20" width="25" height="1" fill="#fafafa"/>
<rect x="456" y="0" width="1" height="21" fill="#fafafa"/>
<rect x="460" y="0" width="24" height="20" fill="url(#dith)"/>
<rect x="460" y="20" width="25" height="1" fill="#fafafa"/>
<rect x="484" y="0" width="1" height="21" fill="#fafafa"/>
<rect x="620" y="0" width="24" height="20" fill="url(#dith)"/>
<rect x="620" y="20" width="25" height="1" fill="#fafafa"/>
<rect x="644" y="0" width="1" height="21" fill="#fafafa"/>
<rect x="1066" y="0" width="24" height="20" fill="url(#dith)"/>
<rect x="1066" y="20" width="25" height="1" fill="#fafafa"/>
<rect x="1090" y="0" width="1" height="21" fill="#fafafa"/>
<g shape-rendering="auto"><path d="M15.5,2.5 h8 l3,3 v10 h-11 z" fill="#fdfdfd" stroke="#707070" stroke-width="1"/><path d="M17,5 h3 M17,8.5 h6 M17,11 h4" stroke="#8a8a8a" stroke-width="1"/></g>
<path transform="translate(24.9,13.9)" d="M-1.8,-6 h3.6 v4.2 h4.2 v3.6 h-4.2 v4.2 h-3.6 v-4.2 h-4.2 v-3.6 h4.2 z" fill="url(#grn)" stroke="#0c8a0c" stroke-width="0.9" shape-rendering="auto"/>
<g transform="translate(34.5,2.5)" fill="none" stroke="#000" stroke-width="1.0" stroke-linecap="square" shape-rendering="auto"><path d="M2.8,0.6 L3.2,1.6 M0.6,2.3 H5.4 M1.7,3.2 L2.1,4.4 M4.5,3.2 L4.1,4.4 M0.6,5.2 H5.4 M0.6,7.2 H5.4 M3,5.2 V11.4 M3,7.6 L0.6,10.2 M3,7.6 L5.4,9.6 M10.8,0.6 L7.2,2 V11 M7.2,5.6 H11.4 M9.6,5.6 V11.4"/></g>
<g transform="translate(46.5,2.5)" fill="none" stroke="#000" stroke-width="1.0" stroke-linecap="square" shape-rendering="auto"><path d="M1,0.8 L2,2 M0.4,4.2 H2 V10 L3.4,8.6 M4.6,1.6 H11.4 M8.6,1.6 V11.2 L7,10.2"/></g>
<g transform="translate(58.5,2.5)" fill="none" stroke="#000" stroke-width="1.0" stroke-linecap="square" shape-rendering="auto"><path d="M3,0.4 L4,1.8 M9,0.4 L8,1.8 M2,2.6 H10 V7.8 H2 Z M2,5.2 H10 M6,2.6 V11.6 M0.4,9.4 H11.6"/></g>
<g transform="translate(187,2.5)" fill="none" stroke="#000" stroke-width="1.0" stroke-linecap="square" shape-rendering="auto"><path d="M5.2,0 L4.6,1.4 M2,1.8 H10 V11.4 H2 Z M2,5 H10 M2,8.2 H10"/></g>
<g transform="translate(199,2.5)" fill="none" stroke="#000" stroke-width="1.0" stroke-linecap="square" shape-rendering="auto"><path d="M0.8,1.4 H5 M0.2,4.4 H5.6 M2.6,4.4 L0.6,9.6 L5,9 M3.8,7 L5.2,9.8 M6.4,3.6 H11.4 L11,11 L9.8,10.4 M8.6,0.4 V6 L6.4,11.2"/></g>
<g transform="translate(211,2.5)" fill="none" stroke="#000" stroke-width="1.0" stroke-linecap="square" shape-rendering="auto"><path d="M6,0 V1.4 M0.4,2.6 H11.6 M4,3.6 L2,6 M8,3.6 L10,6 M3,5.6 L10.4,11.6 M9,5.6 L1,11.6"/></g>
<g transform="translate(223,2.5)" fill="none" stroke="#000" stroke-width="1.0" stroke-linecap="square" shape-rendering="auto"><path d="M2.6,0.6 H9.4 V5.6 H2.6 Z M2.6,3.1 H9.4 M3.2,6 L1,8.6 M3,7.2 H11 L10.6,11.4 L9.2,11 M5.8,7.6 L3,11 M8.2,7.6 L5.6,11.6"/></g>
<g shape-rendering="auto"><path d="M82.5,11.5 L87.5,3.2 L96.8,10 L98,12.2 L90,18 L88.5,17.5 Z" fill="#b07818" stroke="#9a6410" stroke-width="0.9"/><path d="M83,11.3 L87.8,4 L96.2,10.2 L89.5,16.6 Z" fill="url(#gold)"/><path d="M89.6,16.8 L96.6,10.6 L97.4,12 L90.2,17.6 Z" fill="#e8d8a0"/></g>
<g shape-rendering="auto"><path d="M112.2,2.6 L120,2.4 L123,4 V12 H112.2 Z" fill="#18a0f4" stroke="#1080d8" stroke-width="0.8"/><path d="M113,3.4 L115.5,5.5 V11" stroke="#a8dcff" stroke-width="0.9" fill="none"/><path d="M117,7.2 H121.5" stroke="#e8f6ff" stroke-width="1.2"/><path d="M111,16.6 Q109.6,13.4 112.6,12.8 Q113.4,10.6 116.4,11.2 Q118.4,9.4 120.6,11.4 Q122.4,10.6 123.4,12.6 Q126.4,12.8 125.4,16.6 Z" fill="#e4e8f0" stroke="#4a5a8a" stroke-width="1"/></g>
<g shape-rendering="auto" fill="none"><circle cx="146" cy="10" r="7.3" stroke="#9ab8e0" stroke-width="0.9"/><circle cx="146" cy="10" r="5" stroke="#5a88c8" stroke-width="0.9"/><circle cx="146" cy="10" r="2.6" stroke="#3a70c0" stroke-width="0.9"/><circle cx="146" cy="10" r="1.3" fill="#2050b0" stroke="none"/><path d="M146,10 V17.6" stroke="#10a010" stroke-width="1.3"/><path d="M147,17 a7.3,7.3 0 0,0 6,-8" stroke="#60b060" stroke-width="1.4"/></g>
<g shape-rendering="auto"><path d="M166.5,10.5 L174,17.8 L180,14.5 L179.5,9 L168,8.5 Z" fill="#f4e060" stroke="#c0a020" stroke-width="0.8"/><ellipse cx="172.8" cy="6.8" rx="7.6" ry="2.6" fill="#70b8e4" stroke="#3a7ab0" stroke-width="0.8"/><path d="M169,6.5 Q169.5,2 173,2.2 Q176.5,2 176.8,6.5 Z" fill="#88c8f0" stroke="#3a7ab0" stroke-width="0.8"/><circle cx="177.4" cy="13.8" r="4.2" fill="#e02a10" stroke="#b01808" stroke-width="0.6"/><rect x="175.9" y="12.3" width="3" height="3" fill="#fff"/></g>
<rect x="241" y="0" width="1" height="20" fill="#a0a0a0"/>
<rect x="245" y="0" width="3" height="1" fill="#a8a8a8"/>
<rect x="245" y="2" width="3" height="1" fill="#a8a8a8"/>
<rect x="245" y="4" width="3" height="1" fill="#a8a8a8"/>
<rect x="245" y="6" width="3" height="1" fill="#a8a8a8"/>
<rect x="245" y="8" width="3" height="1" fill="#a8a8a8"/>
<rect x="245" y="10" width="3" height="1" fill="#a8a8a8"/>
<rect x="245" y="12" width="3" height="1" fill="#a8a8a8"/>
<rect x="245" y="14" width="3" height="1" fill="#a8a8a8"/>
<rect x="245" y="16" width="3" height="1" fill="#a8a8a8"/>
<rect x="245" y="18" width="3" height="1" fill="#a8a8a8"/>
<g shape-rendering="auto" fill="#555555" stroke="none"><rect x="258.6" y="5" width="1.4" height="13"/><rect x="257.0" y="14.9" width="12.5" height="1.4"/><path d="M259.3,3.5 l2.3,2.6 h-4.6 z"/><path d="M271.0,15.6 l-2.6,-2.3 v4.6 z"/></g>
<path d="M265.6,5 V13.6 M263,12.6 H265.6 M265.6,6.4 H268" stroke="#108a10" stroke-width="1.2" fill="none" shape-rendering="auto"/>
<rect x="279" y="0" width="1" height="20" fill="#a0a0a0"/>
<g shape-rendering="auto" fill="#555555" stroke="none"><rect x="286.7" y="5" width="1.4" height="13"/><rect x="285.09999999999997" y="14.9" width="12" height="1.4"/><path d="M287.4,3.5 l2.3,2.6 h-4.6 z"/><path d="M298.59999999999997,15.6 l-2.6,-2.3 v4.6 z"/></g>
<g shape-rendering="auto"><path d="M293.6,2 V13.8" stroke="#0a8a0a" stroke-width="1.2"/><rect x="291.4" y="4.6" width="4.4" height="7.4" fill="url(#grn)" stroke="#0a8a0a" stroke-width="1"/></g>
<g shape-rendering="auto" fill="#555555" stroke="none"><rect x="314.6" y="5" width="1.4" height="13"/><rect x="313.0" y="14.9" width="12" height="1.4"/><path d="M315.3,3.5 l2.3,2.6 h-4.6 z"/><path d="M326.5,15.6 l-2.6,-2.3 v4.6 z"/></g>
<path d="M314.2,12.6 Q316.5,9.5 319,7.8 Q320.5,6.8 322,8.2 L325.6,10.8" stroke="#2a9a2a" stroke-width="1.1" fill="none" shape-rendering="auto"/>
<rect x="336" y="0" width="1" height="20" fill="#a0a0a0"/>
<g shape-rendering="auto"><path d="M354.40000000000003,11.5 L359.40000000000003,16.6" stroke="#b08010" stroke-width="3.2" stroke-linecap="butt"/><path d="M354.40000000000003,11.5 L359.40000000000003,16.6" stroke="#f0dc50" stroke-width="1.8"/><circle cx="350.8" cy="7.8" r="5.3" fill="#d8f0fa" stroke="#3a80c0" stroke-width="1.1"/><path d="M347.3,7.8 h7 M350.8,4.3 v7" stroke="#4a88b0" stroke-width="1.8"/></g>
<g shape-rendering="auto"><path d="M382.6,11.5 L387.6,16.6" stroke="#b08010" stroke-width="3.2" stroke-linecap="butt"/><path d="M382.6,11.5 L387.6,16.6" stroke="#f0dc50" stroke-width="1.8"/><circle cx="379" cy="7.8" r="5.3" fill="#d8f0fa" stroke="#3a80c0" stroke-width="1.1"/><path d="M375.5,7.8 h7 " stroke="#4a88b0" stroke-width="1.8"/></g>
<g shape-rendering="auto"><rect x="401" y="2" width="8" height="8" fill="#2a9a1a"/><rect x="409" y="2" width="8" height="8" fill="#1a4ad0"/><rect x="401" y="10" width="8" height="8" fill="#1a4ad0"/><rect x="409" y="10" width="8" height="8" fill="#2a9a1a"/><path d="M402.5,5.5 h5 v3.2 h-1.2 v-1 h-2.6 v1 h-1.2 z M410.5,5.5 h5 v3.2 h-1.2 v-1 h-2.6 v1 h-1.2 z M402.5,13.5 h5 v3.2 h-1.2 v-1 h-2.6 v1 h-1.2 z M410.5,13.5 h5 v3.2 h-1.2 v-1 h-2.6 v1 h-1.2 z" fill="#fff"/></g>
<rect x="426" y="0" width="1" height="20" fill="#a0a0a0"/>
<rect x="431" y="0" width="1" height="20" fill="#a0a0a0"/>
<g shape-rendering="auto" fill="#555555" stroke="none"><rect x="438.8" y="5" width="1.4" height="13"/><rect x="437.2" y="15.0" width="12" height="1.4"/><path d="M439.5,3.5 l2.3,2.6 h-4.6 z"/><path d="M450.7,15.7 l-2.6,-2.3 v4.6 z"/></g>
<path d="M444.5,6 L448.5,9.3 L444.5,12.6 Z" fill="#60d060" stroke="#10a010" stroke-width="1" shape-rendering="auto"/>
<rect x="459" y="0" width="1" height="20" fill="#a0a0a0"/>
<g shape-rendering="auto" fill="#555555" stroke="none"><rect x="466.6" y="5" width="1.4" height="13"/><rect x="465.0" y="15.0" width="12" height="1.4"/><path d="M467.3,3.5 l2.3,2.6 h-4.6 z"/><path d="M478.5,15.7 l-2.6,-2.3 v4.6 z"/></g>
<g shape-rendering="auto"><path d="M473.5,4 V13.8" stroke="#1a70a8" stroke-width="1.3"/><path d="M478.7,9.4 H475.5" stroke="#e05010" stroke-width="1.3"/><path d="M474.4,9.4 L477.4,7.2 V11.6 Z" fill="#e05010"/></g>
<rect x="488" y="0" width="1" height="20" fill="#a0a0a0"/>
<g shape-rendering="auto"><path d="M498.5,2.5 h8 l3,3 v10 h-11 z" fill="#fdfdfd" stroke="#707070" stroke-width="1"/><path d="M502.5,12.5 q0.5,-6 2.5,-6.5 M501.5,8.5 h3" stroke="#444" stroke-width="0.9" fill="none"/></g>
<path transform="translate(508.1,13.9)" d="M-1.8,-6 h3.6 v4.2 h4.2 v3.6 h-4.2 v4.2 h-3.6 v-4.2 h-4.2 v-3.6 h4.2 z" fill="url(#grn)" stroke="#0c8a0c" stroke-width="0.9" shape-rendering="auto"/>
<polygon points="519.9,9 525.1,9 522.5,12" fill="#000" shape-rendering="auto"/>
<g shape-rendering="auto"><circle cx="543.9" cy="9.8" r="7.6" fill="#1468d0" stroke="#0a50a8" stroke-width="0.8"/><circle cx="543.9" cy="9.8" r="5.6" fill="#f4f8ff"/><path d="M543.3,6.4 L543.9,9.8 L546.4,9.6" stroke="#222" stroke-width="1.1" fill="none"/></g>
<polygon points="558.9,9 564.1,9 561.5,12" fill="#000" shape-rendering="auto"/>
<g shape-rendering="auto"><rect x="575.7" y="3.5" width="14.8" height="13" fill="#fff" stroke="#3a78c8" stroke-width="1"/><rect x="576" y="3.8" width="14.2" height="1.8" fill="#8ab8e8"/><path d="M576,11.5 h14.5" stroke="#3a78c8" stroke-width="1"/><path d="M577.5,9.2 h1.5 l2,-1 l1.5,0.6 l2,-1.2 l1.5,0.6 l2,-1" stroke="#a02010" fill="none" stroke-width="1"/><path d="M578,14.2 l1.8,-0.8 l1.5,0.6 l1.8,-1 l1.5,0.4 l1.5,-1.4 l1.5,1.6" stroke="#10a010" fill="none" stroke-width="1"/></g>
<polygon points="597.9,9 603.1,9 600.5,12" fill="#000" shape-rendering="auto"/>
<rect x="609" y="0" width="1" height="20" fill="#a0a0a0"/>
<rect x="613" y="0" width="3" height="1" fill="#a8a8a8"/>
<rect x="613" y="2" width="3" height="1" fill="#a8a8a8"/>
<rect x="613" y="4" width="3" height="1" fill="#a8a8a8"/>
<rect x="613" y="6" width="3" height="1" fill="#a8a8a8"/>
<rect x="613" y="8" width="3" height="1" fill="#a8a8a8"/>
<rect x="613" y="10" width="3" height="1" fill="#a8a8a8"/>
<rect x="613" y="12" width="3" height="1" fill="#a8a8a8"/>
<rect x="613" y="14" width="3" height="1" fill="#a8a8a8"/>
<rect x="613" y="16" width="3" height="1" fill="#a8a8a8"/>
<rect x="613" y="18" width="3" height="1" fill="#a8a8a8"/>
<rect x="619" y="0" width="1" height="20" fill="#a0a0a0"/>
<path d="M627,3 L627,14 L629.6,11.6 L632,16.8 L634,15.9 L631.6,10.8 L635,10.6 Z" fill="#4a4a4a" shape-rendering="auto"/>
<g fill="#474747"><rect x="652" y="10" width="6" height="1.6"/><rect x="661" y="10" width="6" height="1.6"/><rect x="658.7" y="3" width="1.6" height="6"/><rect x="658.7" y="12" width="1.6" height="6"/></g>
<rect x="676" y="0" width="1" height="20" fill="#a0a0a0"/>
<rect x="693" y="4" width="1" height="13" fill="#474747"/>
<rect x="716" y="9.6" width="12" height="1.4" fill="#474747"/>
<path d="M744,16.6 L755.7,4.9" stroke="#474747" stroke-width="1.2" shape-rendering="auto"/>
<g shape-rendering="auto" stroke="#555" stroke-width="1" fill="none"><path d="M770,11.4 L778,3.8 M771.5,15.4 L783.5,3.8 M775.5,16.6 L784.5,8.2"/><path d="M773.5,15.5 l0.8,-5 M776.5,13 l0.6,-5 M779.5,10.5 l0.5,-5 M781.8,7.5 l0.4,-5.5" stroke-width="1.1"/></g>
<text x="780.3" y="19" font-size="7" font-weight="bold" fill="#474747" shape-rendering="auto">E</text>
<g fill="#555"><rect x="799" y="3" width="1" height="1"/><rect x="801" y="3" width="1" height="1"/><rect x="803" y="3" width="1" height="1"/><rect x="805" y="3" width="1" height="1"/><rect x="807" y="3" width="1" height="1"/><rect x="809" y="3" width="1" height="1"/><rect x="811" y="3" width="1" height="1"/><rect x="799" y="6" width="1" height="1"/><rect x="801" y="6" width="1" height="1"/><rect x="803" y="6" width="1" height="1"/><rect x="805" y="6" width="1" height="1"/><rect x="807" y="6" width="1" height="1"/><rect x="809" y="6" width="1" height="1"/><rect x="811" y="6" width="1" height="1"/><rect x="799" y="10" width="1" height="1"/><rect x="801" y="10" width="1" height="1"/><rect x="803" y="10" width="1" height="1"/><rect x="805" y="10" width="1" height="1"/><rect x="807" y="10" width="1" height="1"/><rect x="809" y="10" width="1" height="1"/><rect x="811" y="10" width="1" height="1"/><rect x="799" y="14" width="1" height="1"/><rect x="801" y="14" width="1" height="1"/><rect x="803" y="14" width="1" height="1"/><rect x="805" y="14" width="1" height="1"/><rect x="807" y="14" width="1" height="1"/></g>
<text x="808.4" y="19" font-size="7" font-weight="bold" fill="#474747" shape-rendering="auto">F</text>
<text x="829.6" y="15" font-size="12.5" fill="#474747" shape-rendering="auto">A</text>
<g fill="#555"><rect x="856" y="4" width="1" height="1"/><rect x="856" y="16" width="1" height="1"/><rect x="858" y="4" width="1" height="1"/><rect x="858" y="16" width="1" height="1"/><rect x="860" y="4" width="1" height="1"/><rect x="860" y="16" width="1" height="1"/><rect x="862" y="4" width="1" height="1"/><rect x="862" y="16" width="1" height="1"/><rect x="864" y="4" width="1" height="1"/><rect x="864" y="16" width="1" height="1"/><rect x="866" y="4" width="1" height="1"/><rect x="866" y="16" width="1" height="1"/><rect x="868" y="4" width="1" height="1"/><rect x="868" y="16" width="1" height="1"/><rect x="856" y="6" width="1" height="1"/><rect x="868" y="6" width="1" height="1"/><rect x="856" y="8" width="1" height="1"/><rect x="868" y="8" width="1" height="1"/><rect x="856" y="10" width="1" height="1"/><rect x="868" y="10" width="1" height="1"/><rect x="856" y="12" width="1" height="1"/><rect x="868" y="12" width="1" height="1"/><rect x="856" y="14" width="1" height="1"/><rect x="868" y="14" width="1" height="1"/></g>
<path d="M858.5,7.5 H866 M862.2,7.5 V15" stroke="#474747" stroke-width="1.6" shape-rendering="auto"/>
<g shape-rendering="auto" fill="#474747"><path d="M883,8 L886.5,4 L890,8 Z"/><path d="M890,13 L893.5,17 L897,13 Z"/><path d="M885,10.5 L887.3,13 L892,8.5" stroke="#474747" stroke-width="1.3" fill="none"/></g>
<polygon points="903.8,9 909.0,9 906.4,12" fill="#000" shape-rendering="auto"/>
<rect x="915" y="0" width="1" height="20" fill="#a0a0a0"/>
<rect x="919" y="0" width="3" height="1" fill="#a8a8a8"/>
<rect x="919" y="2" width="3" height="1" fill="#a8a8a8"/>
<rect x="919" y="4" width="3" height="1" fill="#a8a8a8"/>
<rect x="919" y="6" width="3" height="1" fill="#a8a8a8"/>
<rect x="919" y="8" width="3" height="1" fill="#a8a8a8"/>
<rect x="919" y="10" width="3" height="1" fill="#a8a8a8"/>
<rect x="919" y="12" width="3" height="1" fill="#a8a8a8"/>
<rect x="919" y="14" width="3" height="1" fill="#a8a8a8"/>
<rect x="919" y="16" width="3" height="1" fill="#a8a8a8"/>
<rect x="919" y="18" width="3" height="1" fill="#a8a8a8"/>
<text x="930" y="13.9" font-size="10.2" letter-spacing="-0.15" fill="#3a3a3a" shape-rendering="auto">M1</text>
<text x="958" y="13.9" font-size="10.2" letter-spacing="-0.15" fill="#3a3a3a" shape-rendering="auto">M5</text>
<text x="984" y="13.9" font-size="10.2" letter-spacing="-0.15" fill="#3a3a3a" shape-rendering="auto">M15</text>
<text x="1012" y="13.9" font-size="10.2" letter-spacing="-0.15" fill="#3a3a3a" shape-rendering="auto">M30</text>
<text x="1043" y="13.9" font-size="10.2" letter-spacing="-0.15" fill="#3a3a3a" shape-rendering="auto">H1</text>
<text x="1070" y="13.9" font-size="10.2" letter-spacing="-0.15" fill="#3a3a3a" shape-rendering="auto">H4</text>
<text x="1099" y="13.9" font-size="10.2" letter-spacing="-0.15" fill="#3a3a3a" shape-rendering="auto">D1</text>
<text x="1126" y="13.9" font-size="10.2" letter-spacing="-0.15" fill="#3a3a3a" shape-rendering="auto">W1</text>
<text x="1153" y="13.9" font-size="10.2" letter-spacing="-0.15" fill="#3a3a3a" shape-rendering="auto">MN</text>
<rect x="1065" y="0" width="1" height="20" fill="#a0a0a0"/>
<rect x="1176" y="0" width="1" height="20" fill="#a0a0a0"/>
<g shape-rendering="auto"><circle cx="1646.5" cy="7.4" r="3.9" fill="#f4f4fc" stroke="#2858c8" stroke-width="1.3"/><path d="M1643.5,10.4 L1639.6,14.3" stroke="#2050c0" stroke-width="2.6" stroke-linecap="round"/></g>
<g shape-rendering="auto"><ellipse cx="1669" cy="11.5" rx="5.8" ry="4.2" fill="#dcdce6" stroke="#a0a0a8" stroke-width="1"/><path d="M1666,15 L1666.5,18.5 L1670,15.5" fill="#dcdce6" stroke="#909098" stroke-width="1"/><circle cx="1677.5" cy="7.5" r="8.2" fill="url(#badge)"/><text x="1674.2" y="12.2" font-size="11.5" fill="#fff" font-family="Liberation Serif">1</text></g>
</g>
</svg></body></html>
